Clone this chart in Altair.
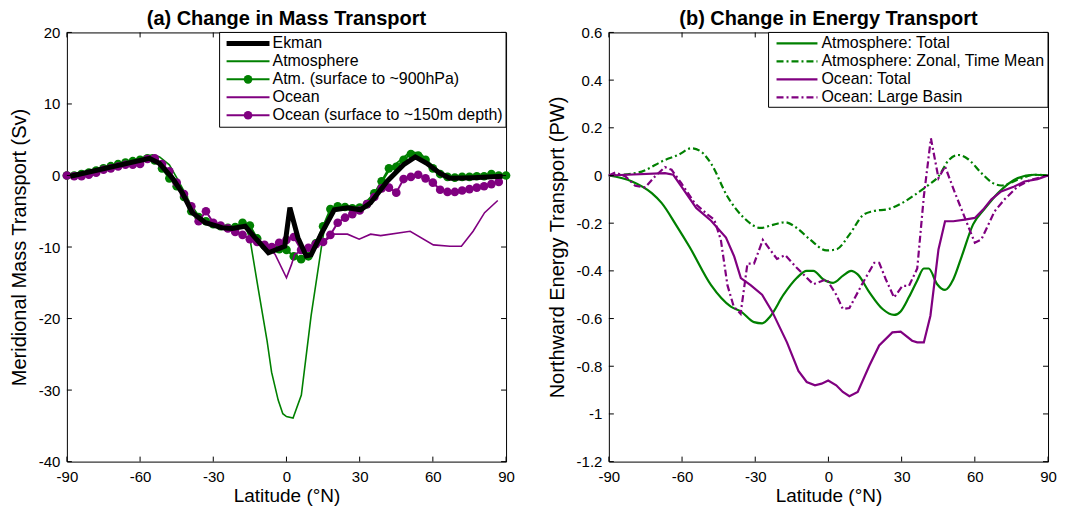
import altair as alt
import pandas as pd

GREEN = "#008000"
PURPLE = "#800080"
FONT = "Liberation Sans"

# ---------------- Panel (a): mass transport (Sv) ----------------
ekman_lat = [-88.6, -56.2, -52.1, -46.7, -42.6, -38.6, -33.2, -26.4, -22.3, -16.9, -12.9, -7.4,
             -0.7, 1.4, 4.7, 8.1, 10.1, 14.2, 19.6, 25.0, 30.4, 34.5, 41.3, 48.0, 52.8, 57.5,
             62.9, 67.0, 76.5, 88.6]
ekman_val = [-0.1, 2.4, 1.7, -0.4, -2.5, -5.2, -6.6, -7.3, -7.4, -7.1, -8.7, -10.8,
             -9.9, -4.5, -8.7, -11.25, -11.1, -8.2, -4.8, -4.5, -4.8, -3.8, -0.8, 1.5, 2.6, 1.7,
             0.3, -0.4, -0.3, -0.1]

atm_lat = [-90, -85, -80, -75, -70, -65, -60, -55, -52, -48, -45, -42, -39, -36, -33, -30, -25,
           -20, -17, -14.9, -11.5, -8, -6.1, -3.4, -1.5, 0, 2.7, 6.1, 10.1, 14.2, 15.6, 18.3,
           25, 30.4, 37.2, 42.6, 50.7, 54.8, 58.9, 64.3, 69.7, 80, 88.6, 90]
atm_val = [0, 0.1, 0.4, 0.9, 1.4, 1.9, 2.4, 2.9, 2.6, 1.5, -0.3, -2.2, -4.2, -5.6, -6.3, -6.7, -7.1,
           -7.0, -6.8, -9.0, -16.0, -23.0, -27.5, -31.4, -33.3, -33.7, -33.9, -30.7, -19.6, -10.3,
           -7.3, -4.6, -4.3, -4.5, -2.0, 1.0, 3.3, 3.1, 1.7, 0.1, -0.4, -0.1, 0.0, 0.0]

dots_lat = [-90, -87, -84, -81, -78, -75, -72, -69, -66, -63, -60, -57, -54, -51, -48, -45, -42,
            -39, -36, -33, -30, -27, -24, -21, -18, -15, -12, -9, -6, -3, 0, 3, 6, 9, 12, 15, 18,
            21, 24, 27, 30, 33, 36, 39, 42, 45, 48, 51, 54, 57, 60, 63, 66, 69, 72, 75, 78, 81,
            84, 87, 90]
atm_dots = [0, 0, 0.2, 0.4, 0.7, 1.0, 1.3, 1.6, 1.8, 2.0, 2.2, 2.4, 2.1, 1.0, -0.4, -1.5, -3.0,
            -5.0, -5.8, -6.4, -6.8, -7.1, -7.3, -7.2, -6.6, -7.0, -8.8, -9.8, -10.2, -10.3, -10.4,
            -11.3, -11.7, -11.3, -9.5, -7.1, -4.7, -4.3, -4.4, -4.6, -4.5, -4.0, -2.5, -0.8, 1.0,
            1.2, 2.2, 3.0, 2.8, 2.2, 1.0, 0.2, -0.2, -0.3, -0.2, -0.2, -0.1, -0.1, 0.2, 0.0, 0.0]
ocn_dots = [0, -0.1, -0.1, 0.1, 0.4, 0.8, 1.0, 1.25, 1.5, 1.5, 1.6, 2.3, 2.4, 1.6, 0.6, -1.0, -2.6,
            -4.3, -6.4, -5.0, -6.6, -7.0, -7.4, -7.9, -8.3, -8.9, -9.3, -9.7, -10.0, -9.4, -9.0,
            -8.6, -10.4, -10.1, -9.6, -9.3, -8.3, -6.6, -5.9, -5.4, -4.9, -4.0, -3.0, -1.8, -1.7,
            -2.4, -0.5, -0.2, 0.1, -0.4, -1.0, -2.0, -2.3, -2.3, -2.1, -1.9, -1.7, -1.5, -1.2,
            -0.9, None]

ocn_lat = [-90, -84, -78, -72, -66, -60, -57, -54, -51, -48, -45, -42, -39, -36, -30, -24, -18,
           -12, -9, -4.7, 0, 2, 3.4, 8, 12, 15.6, 19.6, 25, 29.8, 34.5, 38.6, 50.7, 60.2, 67, 71.7,
           76.5, 81.2, 86.6]
ocn_val = [0, -0.1, 0.4, 1.0, 1.5, 1.6, 2.3, 2.4, 1.6, 0.6, -1.0, -2.6, -4.3, -6.2, -6.6, -7.4,
           -8.3, -9.3, -9.8, -11.0, -14.3, -12.5, -11.0, -10.3, -9.8, -9.2, -8.2, -8.2, -8.9, -8.2,
           -8.4, -7.8, -9.7, -9.9, -9.9, -7.8, -5.2, -3.5]

# ---------------- Panel (b): energy transport (PW) ----------------
at_lat = [-90, -80.5, -72.4, -68.4, -62.3, -56.9, -48.1, -40, -35.9, -30.5, -27.2, -23.8, -18.4,
          -13, -8.9, -6.2, -2.2, 1.9, 6, 9.3, 12, 16.8, 22.2, 26.9, 29.6, 33, 36.4, 39.1, 41.1,
          44.5, 47.8, 51.2, 54.6, 59.3, 64, 69.5, 77.6, 84.3, 90]
at_val = [0, -0.025, -0.074, -0.115, -0.21, -0.3, -0.46, -0.55, -0.57, -0.615, -0.62, -0.59, -0.5,
          -0.43, -0.4, -0.4, -0.435, -0.45, -0.42, -0.4, -0.415, -0.49, -0.56, -0.585, -0.57,
          -0.51, -0.44, -0.39, -0.39, -0.455, -0.48, -0.435, -0.34, -0.205, -0.14, -0.074,
          -0.011, 0.003, 0]

az_lat = [-90, -77.8, -67, -61.6, -56.2, -52.2, -48.1, -41.4, -34.6, -27.8, -22.4, -17.7, -13,
          -7.6, -0.8, 3.2, 8.6, 14.1, 18.1, 24.9, 30.3, 36.4, 41.1, 45.1, 49.2, 53.2, 57.3, 62.7,
          67.4, 70.8, 77.6, 84.3, 90]
az_val = [0, 0.013, 0.065, 0.086, 0.114, 0.1, 0.05, -0.088, -0.178, -0.22, -0.206, -0.196, -0.22,
          -0.268, -0.314, -0.31, -0.248, -0.167, -0.15, -0.14, -0.115, -0.074, -0.039, -0.004,
          0.063, 0.086, 0.068, 0.01, -0.032, -0.042, -0.018, 0.003, 0]

ot_lat = [-90, -67, -63.6, -60.3, -54.2, -48.1, -42, -38.6, -35.9, -31.9, -27.2, -23.1, -17,
          -12.3, -8.9, -5.5, -2.8, -0.1, 3.2, 5.9, 8.6, 12, 16.8, 20.8, 26.2, 29.6, 34.3, 36.4,
          39.1, 41.8, 45.1, 47.8, 51.2, 55.9, 60, 63.4, 66.8, 70.8, 76.2, 80.3, 85.7, 90]
ot_val = [0, 0.01, 0.003, -0.046, -0.136, -0.19, -0.26, -0.34, -0.43, -0.46, -0.5, -0.57, -0.7,
          -0.82, -0.866, -0.88, -0.873, -0.86, -0.88, -0.908, -0.926, -0.908, -0.797, -0.713,
          -0.658, -0.655, -0.693, -0.7, -0.7, -0.588, -0.31, -0.192, -0.192, -0.185, -0.178,
          -0.143, -0.1, -0.067, -0.046, -0.025, -0.015, 0]

ob_lat = [-90, -87.3, -83.2, -79.2, -75.1, -71.1, -67, -64.3, -60.3, -54.9, -49.5, -46.8, -44.1,
          -41.4, -38.8, -36, -33.2, -30.5, -26.9, -21.1, -17.7, -13, -6.2, -0.8, 3.2, 5.9, 8.6,
          14.1, 18.8, 20.8, 23.5, 26.9, 30.3, 33, 36.4, 39.1, 42, 45.1, 47.8, 51.9, 57.3, 60,
          62.7, 68.1, 72.2, 77.6, 83, 90]
ob_val = [0, 0.013, -0.004, -0.043, -0.05, -0.004, 0.035, 0.024, -0.032, -0.115, -0.164, -0.185,
          -0.27, -0.46, -0.55, -0.58, -0.37, -0.37, -0.27, -0.35, -0.334, -0.387, -0.456, -0.435,
          -0.5, -0.56, -0.556, -0.45, -0.366, -0.366, -0.435, -0.512, -0.463, -0.463, -0.39,
          -0.088, 0.156, -0.011, 0.038, -0.074, -0.213, -0.282, -0.268, -0.15, -0.1, -0.046,
          -0.018, 0]

x_ticks = [-90, -60, -30, 0, 30, 60, 90]
ya_ticks = [-40, -30, -20, -10, 0, 10, 20]
yb_ticks = [-1.2, -1.0, -0.8, -0.6, -0.4, -0.2, 0, 0.2, 0.4, 0.6]

legend_a = ["Ekman", "Atmosphere", "Atm. (surface to ~900hPa)", "Ocean",
            "Ocean (surface to ~150m depth)"]
legend_b = ["Atmosphere: Total", "Atmosphere: Zonal, Time Mean", "Ocean: Total",
            "Ocean: Large Basin"]

W, H = 440, 430
DASHDOT = [7, 3, 2, 3]
DOT = 75


def df(lat, val):
    return pd.DataFrame({"lat": lat, "v": val}).dropna()


def encs(ydom, yvals, ytitle):
    x = alt.X("lat:Q", scale=alt.Scale(domain=[-90, 90], nice=False, zero=False),
              axis=alt.Axis(values=x_ticks, title="Latitude (°N)", ticks=False, domain=False,
                            grid=False, labelPadding=7.5, titlePadding=2, labelFlush=False,
                            titleFontSize=19, labelExpr="datum.value + ''"))
    y = alt.Y("v:Q", scale=alt.Scale(domain=ydom, nice=False, zero=False),
              axis=alt.Axis(values=yvals, title=ytitle, ticks=False, domain=False, grid=False,
                            labelPadding=7, titlePadding=9, labelFlush=False,
                            labelExpr="datum.value + ''"))
    return x, y


def tick_layers(x, y, yvals):
    xt = pd.DataFrame({"lat": x_ticks})
    yt = pd.DataFrame({"v": yvals})
    L = 5
    return [
        alt.Chart(xt).mark_rule(color="black", strokeWidth=1).encode(
            x=x, y=alt.value(H), y2=alt.value(H - L)),
        alt.Chart(xt).mark_rule(color="black", strokeWidth=1).encode(
            x=x, y=alt.value(0), y2=alt.value(L)),
        alt.Chart(yt).mark_rule(color="black", strokeWidth=1).encode(
            y=y, x=alt.value(0), x2=alt.value(L)),
        alt.Chart(yt).mark_rule(color="black", strokeWidth=1).encode(
            y=y, x=alt.value(W), x2=alt.value(W - L)),
    ]


one = pd.DataFrame({"k": [0]})


def legend_layers(labels, styles, box_left, box_bottom, line_x0, line_x1, text_x):
    layers = [alt.Chart(one).mark_rect(fill="white", stroke="black", strokeWidth=1).encode(
        x=alt.value(box_left), x2=alt.value(W), y=alt.value(0), y2=alt.value(box_bottom))]
    for i, (lab, st) in enumerate(zip(labels, styles)):
        yy = 11 + 18 * i
        kw = dict(color=st["color"], strokeWidth=st["width"])
        if st.get("dash"):
            kw["strokeDash"] = st["dash"]
        layers.append(alt.Chart(one).mark_rule(**kw).encode(
            x=alt.value(line_x0), x2=alt.value(line_x1), y=alt.value(yy)))
        if st.get("dot"):
            layers.append(alt.Chart(one).mark_point(filled=True, size=DOT, opacity=1,
                                                    color=st["color"]).encode(
                x=alt.value((line_x0 + line_x1) / 2), y=alt.value(yy)))
        layers.append(alt.Chart(one).mark_text(align="left", baseline="middle", font=FONT,
                                               fontSize=16, color="black").encode(
            x=alt.value(text_x), y=alt.value(yy), text=alt.value(lab)))
    return layers


TITLE_KW = dict(fontSize=20, fontWeight="bold", font=FONT, offset=-4, anchor="middle")

# ---- panel a ----
xa, ya = encs([-40, 20], ya_ticks, "Meridional Mass Transport (Sv)")
pa = [
    alt.Chart(df(atm_lat, atm_val)).mark_line(color=GREEN, strokeWidth=1.6).encode(x=xa, y=ya),
    alt.Chart(df(dots_lat, atm_dots)).mark_line(
        color=GREEN, strokeWidth=2,
        point=alt.OverlayMarkDef(filled=True, size=DOT, color=GREEN, opacity=1)).encode(x=xa, y=ya),
    alt.Chart(df(ocn_lat, ocn_val)).mark_line(color=PURPLE, strokeWidth=1.6).encode(x=xa, y=ya),
    alt.Chart(df(dots_lat, ocn_dots)).mark_line(
        color=PURPLE, strokeWidth=2,
        point=alt.OverlayMarkDef(filled=True, size=DOT, color=PURPLE, opacity=1)).encode(x=xa, y=ya),
    alt.Chart(df(ekman_lat, ekman_val)).mark_line(color="black", strokeWidth=5).encode(x=xa, y=ya),
]
styles_a = [
    {"color": "black", "width": 5},
    {"color": GREEN, "width": 2},
    {"color": GREEN, "width": 2, "dot": True},
    {"color": PURPLE, "width": 2},
    {"color": PURPLE, "width": 2, "dot": True},
]
panel_a = alt.layer(*pa, *tick_layers(xa, ya, ya_ticks),
                    *legend_layers(legend_a, styles_a, W - 287, 95, W - 280, W - 237,
                                   W - 234)).properties(
    width=W, height=H,
    title=alt.TitleParams("(a) Change in Mass Transport", **TITLE_KW))

# ---- panel b ----
xb, yb = encs([-1.2, 0.6], yb_ticks, "Northward Energy Transport (PW)")
pb = [
    alt.Chart(df(at_lat, at_val)).mark_line(color=GREEN, strokeWidth=2.2,
                                            interpolate="monotone").encode(x=xb, y=yb),
    alt.Chart(df(az_lat, az_val)).mark_line(color=GREEN, strokeWidth=2.2, strokeDash=DASHDOT,
                                            interpolate="monotone").encode(x=xb, y=yb),
    alt.Chart(df(ot_lat, ot_val)).mark_line(color=PURPLE, strokeWidth=2.2).encode(x=xb, y=yb),
    alt.Chart(df(ob_lat, ob_val)).mark_line(color=PURPLE, strokeWidth=2.2,
                                            strokeDash=DASHDOT).encode(x=xb, y=yb),
]
styles_b = [
    {"color": GREEN, "width": 2.2},
    {"color": GREEN, "width": 2.2, "dash": DASHDOT},
    {"color": PURPLE, "width": 2.2},
    {"color": PURPLE, "width": 2.2, "dash": DASHDOT},
]
panel_b = alt.layer(*pb, *tick_layers(xb, yb, yb_ticks),
                    *legend_layers(legend_b, styles_b, W - 280, 75, W - 272, W - 231,
                                   W - 227)).properties(
    width=W, height=H,
    title=alt.TitleParams("(b) Change in Energy Transport", **TITLE_KW))

chart = alt.hconcat(panel_a, panel_b, spacing=103, bounds="flush").properties(
    padding={"left": 0, "top": 0, "right": 0, "bottom": 0}
).configure_view(stroke="black", strokeWidth=1).configure_axis(
    labelFont=FONT, titleFont=FONT, labelFontSize=15, titleFontSize=20, labelColor="black",
    titleColor="black", titleFontWeight="normal"
).configure_title(color="black")

chart.save("out.html", embed_options={"renderer": "svg", "actions": False})
